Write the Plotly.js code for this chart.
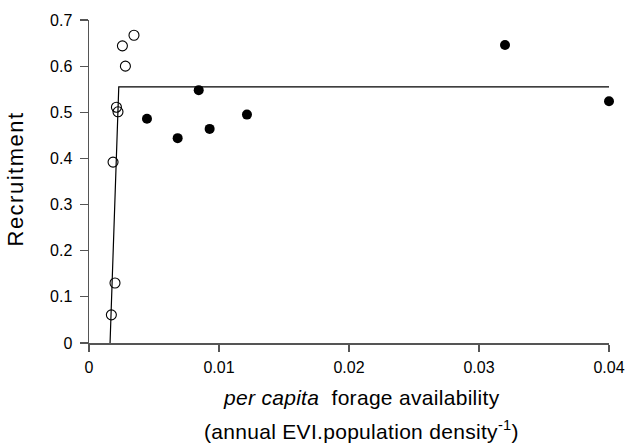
<!DOCTYPE html>
<html>
<head>
<meta charset="utf-8">
<script src="https://cdn.plot.ly/plotly-3.0.1.min.js"></script>
<style>html,body{margin:0;padding:0;background:#fff;}#chart{width:630px;height:446px;}</style>
</head>
<body>
<div id="chart"></div>
<script>
// Open circles (low forage availability)
const openX = [0.00346, 0.00257, 0.00280, 0.00211, 0.00223, 0.00185, 0.00200, 0.00172];
const openY = [0.667, 0.644, 0.600, 0.511, 0.501, 0.392, 0.130, 0.061];
// Filled circles (high forage availability)
const filledX = [0.00446, 0.00844, 0.00682, 0.00928, 0.01215, 0.0320, 0.0400];
const filledY = [0.486, 0.548, 0.444, 0.464, 0.495, 0.646, 0.524];
// Fitted broken-stick line
const fitX = [0.00162, 0.00229, 0.0400];
const fitY = [0.0, 0.555, 0.555];
// Tick values and labels
const xTicks = [0, 0.01, 0.02, 0.03, 0.04];
const xTickLabels = ["0", "0.01", "0.02", "0.03", "0.04"];
const yTicks = [0, 0.1, 0.2, 0.3, 0.4, 0.5, 0.6, 0.7];
const yTickLabels = ["0", "0.1", "0.2", "0.3", "0.4", "0.5", "0.6", "0.7"];
// Titles
const xTitleLine1 = "<i>per capita</i>  forage availability";
const xTitleLine2 = "(annual EVI.population density<sup>-1</sup>)";
const yTitle = "Recruitment";

const font = "Liberation Sans, Arial, sans-serif";
const axisCol = "#555555";

const traces = [
  {x: fitX, y: fitY, type: "scatter", mode: "lines", line: {color: "#000", width: 1.2}, hoverinfo: "skip", cliponaxis: false},
  {x: openX, y: openY, type: "scatter", mode: "markers", cliponaxis: false,
   marker: {symbol: "circle-open", size: 10, color: "#000", line: {width: 1.1, color: "#000"}}},
  {x: filledX, y: filledY, type: "scatter", mode: "markers", cliponaxis: false,
   marker: {symbol: "circle", size: 10, color: "#000"}}
];

const layout = {
  width: 630, height: 446,
  margin: {l: 89, r: 21, t: 19.5, b: 102.5},
  paper_bgcolor: "#fff", plot_bgcolor: "#fff",
  showlegend: false,
  font: {family: font, color: "#000", size: 16},
  xaxis: {
    range: [0, 0.04], tickvals: xTicks, ticktext: xTickLabels,
    showgrid: false, zeroline: false, showline: true, linecolor: axisCol, linewidth: 1.5,
    ticks: "outside", ticklen: 7, tickwidth: 1.2, tickcolor: axisCol,
    ticklabelstandoff: 2,
    tickfont: {family: font, size: 16, color: "#000"}
  },
  yaxis: {
    range: [0, 0.7], tickvals: yTicks, ticktext: yTickLabels,
    showgrid: false, zeroline: false, showline: true, linecolor: axisCol, linewidth: 1.5,
    ticks: "outside", ticklen: 8, tickwidth: 1.2, tickcolor: axisCol,
    ticklabelstandoff: 4,
    tickfont: {family: font, size: 16, color: "#000"}
  },
  annotations: [
    {text: '<span style="letter-spacing:0.3px">' + xTitleLine1 + '</span>', xref: "paper", yref: "paper", x: 0.5, y: 0,
     xanchor: "center", yanchor: "middle", xshift: 12, yshift: -54.5, showarrow: false,
     font: {family: font, size: 21, color: "#000"}},
    {text: '<span style="letter-spacing:0.3px">' + xTitleLine2 + '</span>', xref: "paper", yref: "paper", x: 0.5, y: 0,
     xanchor: "center", yanchor: "middle", xshift: 12, yshift: -86.5, showarrow: false,
     font: {family: font, size: 21, color: "#000"}},
    {text: '<span style="letter-spacing:1.5px">' + yTitle + '</span>', xref: "paper", yref: "paper", x: 0, y: 0.5,
     xanchor: "center", yanchor: "middle", xshift: -74, yshift: 2, textangle: -90, showarrow: false,
     font: {family: font, size: 22, color: "#000"}}
  ]
};

Plotly.newPlot("chart", traces, layout, {displayModeBar: false, staticPlot: true});
</script>
</body>
</html>
